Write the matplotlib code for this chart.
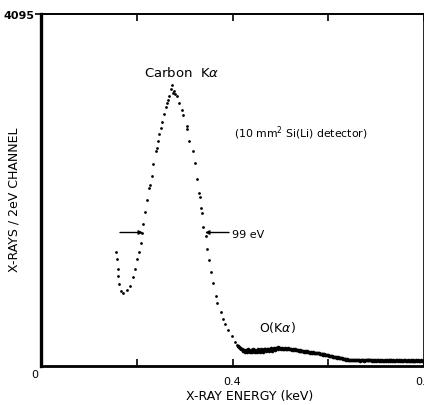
import numpy as np
import matplotlib
matplotlib.use("Agg")
import matplotlib.pyplot as plt

# ---- data (energy in keV, counts per 2 eV channel) ----
peak_energy = [0.1567, 0.1581, 0.1608, 0.1615, 0.1635, 0.1671, 0.1719, 0.1790, 0.1859,
               0.1928, 0.1970, 0.2011, 0.2047, 0.2083, 0.2103, 0.2131, 0.2162, 0.2214,
               0.2262, 0.2277, 0.2318, 0.2346, 0.2402, 0.2417, 0.2450, 0.2471, 0.2506,
               0.2534, 0.2575, 0.2611, 0.2638, 0.2659, 0.2680, 0.2715, 0.2743, 0.2763,
               0.2780, 0.2799, 0.2834, 0.2883, 0.2939, 0.2972, 0.3043, 0.3056, 0.3098,
               0.3169, 0.3211, 0.3259, 0.3300, 0.3311, 0.3342, 0.3357, 0.3390, 0.3440,
               0.3474, 0.3503, 0.3551, 0.3599, 0.3655, 0.3683, 0.3754, 0.3795, 0.3843,
               0.3912, 0.3983, 0.4052, 0.4100]
peak_counts = [1330, 1245, 1128, 1050, 954, 876, 849, 888, 934,
               1032, 1128, 1245, 1323, 1431, 1547, 1652, 1788, 1931,
               2074, 2106, 2214, 2350, 2505, 2533, 2614, 2699, 2769,
               2835, 2932, 3010, 3060, 3098, 3145, 3223, 3269, 3176,
               3200, 3164, 3145, 3060, 2982, 2920, 2757, 2789, 2621,
               2505, 2358, 2176, 2009, 1970, 1835, 1780, 1614, 1509,
               1361, 1237, 1097, 966, 811, 733, 625, 547, 489,
               422, 352, 276, 245]

tail_start = 0.412   # keV, first tail channel
channel_width = 0.002  # keV (2 eV channels)
tail_counts = [
    236, 218, 214, 198, 196, 180, 190, 164, 184, 162,
    192, 170, 160, 188, 166, 194, 170, 162, 190, 176,
    164, 196, 178, 168, 198, 180, 168, 192, 200, 174,
    196, 200, 178, 196, 204, 180, 200, 206, 188, 204,
    214, 218, 202, 214, 208, 198, 210, 200, 196, 206,
    200, 194, 204, 198, 192, 200, 190, 198, 188, 194,
    188, 182, 190, 178, 186, 176, 178, 176, 174, 168,
    174, 164, 170, 160, 166, 156, 162, 154, 160, 150,
    156, 148, 150, 148, 146, 144, 142, 136, 142, 132,
    134, 128, 128, 126, 124, 118, 120, 112, 118, 108,
    110, 104, 104, 98, 100, 92, 94, 88, 88, 82,
    84, 78, 80, 74, 76, 72, 74, 68, 74, 68,
    70, 68, 66, 70, 70, 64, 70, 62, 68, 66,
    70, 62, 66, 72, 64, 64, 70, 64, 64, 68,
    62, 70, 62, 66, 60, 68, 68, 62, 66, 60,
    68, 62, 62, 68, 62, 68, 60, 64, 68, 60,
    66, 60, 68, 62, 58, 66, 66, 60, 66, 58,
    64, 62, 58, 64, 66, 60, 58, 66, 62, 58,
    64, 58, 66, 58, 62, 56, 64, 58, 66, 58,
    56, 64, 58, 56, 62]
tail_energy = tail_start + channel_width * np.arange(len(tail_counts))

x_ticks = [0.0, 0.2, 0.4, 0.6, 0.8]
x_tick_labels = ["", "", "0.4", "", "0.8"]
y_max = 4095

plt.rcParams['font.family'] = ['DejaVu Sans']

fig = plt.figure(figsize=(4.24, 4.06), dpi=100)
ax = fig.add_axes([41/424, 39/406, 383/424, 352/406])

ax.plot(peak_energy, peak_counts, 'o', color='black', markersize=2.0, markeredgewidth=0)
ax.plot(tail_energy, tail_counts, 'o', color='black', markersize=2.6, markeredgewidth=0)

ax.set_xlim(0, 0.8)
ax.set_ylim(0, y_max)

ax.set_xticks(x_ticks)
ax.set_xticklabels(x_tick_labels, fontsize=8)
ax.tick_params(axis='x', direction='in', length=5, width=1.2, top=True, pad=7)
ax.set_yticks([y_max])
ax.set_yticklabels([str(y_max)], fontsize=8, fontweight='bold')
ax.tick_params(axis='y', direction='out', length=4, width=1.2, pad=1)

ax.spines['left'].set_linewidth(2.4)
ax.spines['bottom'].set_linewidth(2.0)
ax.spines['top'].set_linewidth(1.4)
ax.spines['right'].set_linewidth(1.2)

ax.text(-6/383, -8/352, "0", transform=ax.transAxes, fontsize=8,
        ha='center', va='center')

ax.set_xlabel("X-RAY ENERGY (keV)", fontsize=9)
ax.xaxis.label.set_va('center')
ax.xaxis.set_label_coords((250 - 41) / 383, -(397 - 367) / 352)
ax.set_ylabel("X-RAYS / 2eV CHANNEL", fontsize=9)
ax.yaxis.label.set_va('center')
ax.yaxis.set_label_coords(-(41 - 14) / 383, (367 - 200) / 352)

ax.text(0.2935, 3420, r"Carbon  K$\alpha$", fontsize=9.5, ha='center', va='center')
ax.text(0.543, 2720, r"(10 mm$^2$ Si(Li) detector)", fontsize=7.8, ha='center', va='center')
ax.text(0.493, 465, r"O(K$\alpha$)", fontsize=9, ha='center', va='center')

arrow_y = 1553
ax.annotate("", xy=(0.2131, arrow_y), xytext=(0.165, arrow_y),
            arrowprops=dict(arrowstyle='-|>', color='black', lw=1.0,
                            mutation_scale=6, shrinkA=0, shrinkB=0))
ax.annotate("", xy=(0.3426, arrow_y), xytext=(0.3927, arrow_y),
            arrowprops=dict(arrowstyle='-|>', color='black', lw=1.0,
                            mutation_scale=6, shrinkA=0, shrinkB=0))
ax.text(0.399, arrow_y - 15, "99 eV", fontsize=8, ha='left', va='center')

fig.savefig("out.png", dpi=100)
